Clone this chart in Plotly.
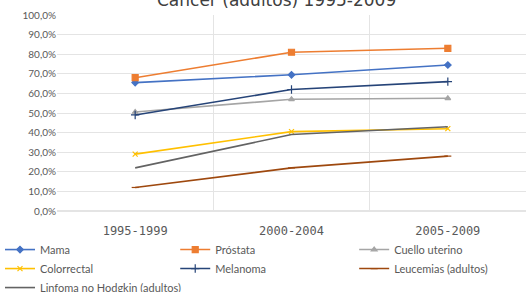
import plotly.graph_objects as go

periods = ["1995-1999", "2000-2004", "2005-2009"]
mama = [65.5, 69.5, 74.5]
prostata = [68.0, 81.0, 83.0]
cuello = [50.5, 57.0, 57.5]
colorrectal = [29.0, 40.5, 42.0]
melanoma = [49.0, 62.0, 66.0]
leucemias = [12.0, 22.0, 28.0]
linfoma = [22.0, 39.0, 43.0]

# name, values, color, marker symbol, marker size, legend column
series = [
    ("Mama", mama, "#4472C4", "diamond", 5, "legend"),
    ("Próstata", prostata, "#ED7D31", "square", 6, "legend2"),
    ("Cuello uterino", cuello, "#A5A5A5", "triangle-up", 5, "legend3"),
    ("Colorrectal", colorrectal, "#FFC000", "x-thin", 5, "legend"),
    ("Melanoma", melanoma, "#264478", "cross-thin", 6, "legend2"),
    ("Leucemias (adultos)", leucemias, "#9E480E", "line-ew", 5, "legend3"),
    ("Linfoma no Hodgkin (adultos)", linfoma, "#636363", None, 0, "legend"),
]

fig = go.Figure()
for name, vals, color, sym, size, leg in series:
    if sym:
        fig.add_trace(go.Scatter(
            x=periods, y=vals, name=name, mode="lines+markers", legend=leg,
            line=dict(color=color, width=1.6),
            marker=dict(symbol=sym, size=size, color=color,
                        line=dict(color=color, width=1.2)),
        ))
    else:
        fig.add_trace(go.Scatter(
            x=periods, y=vals, name=name, mode="lines", legend=leg,
            line=dict(color=color, width=1.6),
        ))

fig.add_annotation(
    text="Cáncer (adultos) 1995-2009", xref="paper", yref="paper",
    x=0.469, y=1.015, xanchor="center", yanchor="bottom", showarrow=False,
    font=dict(size=17, color="#404040", family="DejaVu Sans"),
)

legend_common = dict(
    orientation="v", xref="container", yref="container",
    y=0.195, xanchor="left", yanchor="top",
    font=dict(size=11, color="#595959", family="Lato"),
    tracegroupgap=0, itemwidth=30, bgcolor="rgba(0,0,0,0)",
)

fig.update_layout(
    width=531, height=292,
    margin=dict(l=57, r=5, t=15, b=81, autoexpand=False),
    paper_bgcolor="white", plot_bgcolor="white",
    separators=",.",
    font=dict(family="Lato", color="#595959", size=10),
    showlegend=True,
    legend=dict(x=0.0, **legend_common),
    legend2=dict(x=0.33, **legend_common),
    legend3=dict(x=0.667, **legend_common),
    xaxis=dict(
        type="category", tickson="boundaries", showgrid=True,
        gridcolor="#E4E4E4", gridwidth=1, range=[-0.5, 2.5],
        ticks="", showline=False, zeroline=False, automargin=False,
        ticklabelstandoff=11,
        tickfont=dict(size=12, color="#595959", family="DejaVu Sans Mono"),
    ),
    yaxis=dict(
        range=[0, 100], dtick=10, tickformat=".1f", ticksuffix="%",
        showgrid=True, gridcolor="#E4E4E4", gridwidth=1, automargin=False,
        zeroline=True, zerolinecolor="#E4E4E4", showline=False, ticks="",
        tickfont=dict(size=10, color="#595959", family="Lato"),
    ),
)

fig.write_html("out.html", config={"displayModeBar": False},
               post_script="document.body.style.margin='0';")
